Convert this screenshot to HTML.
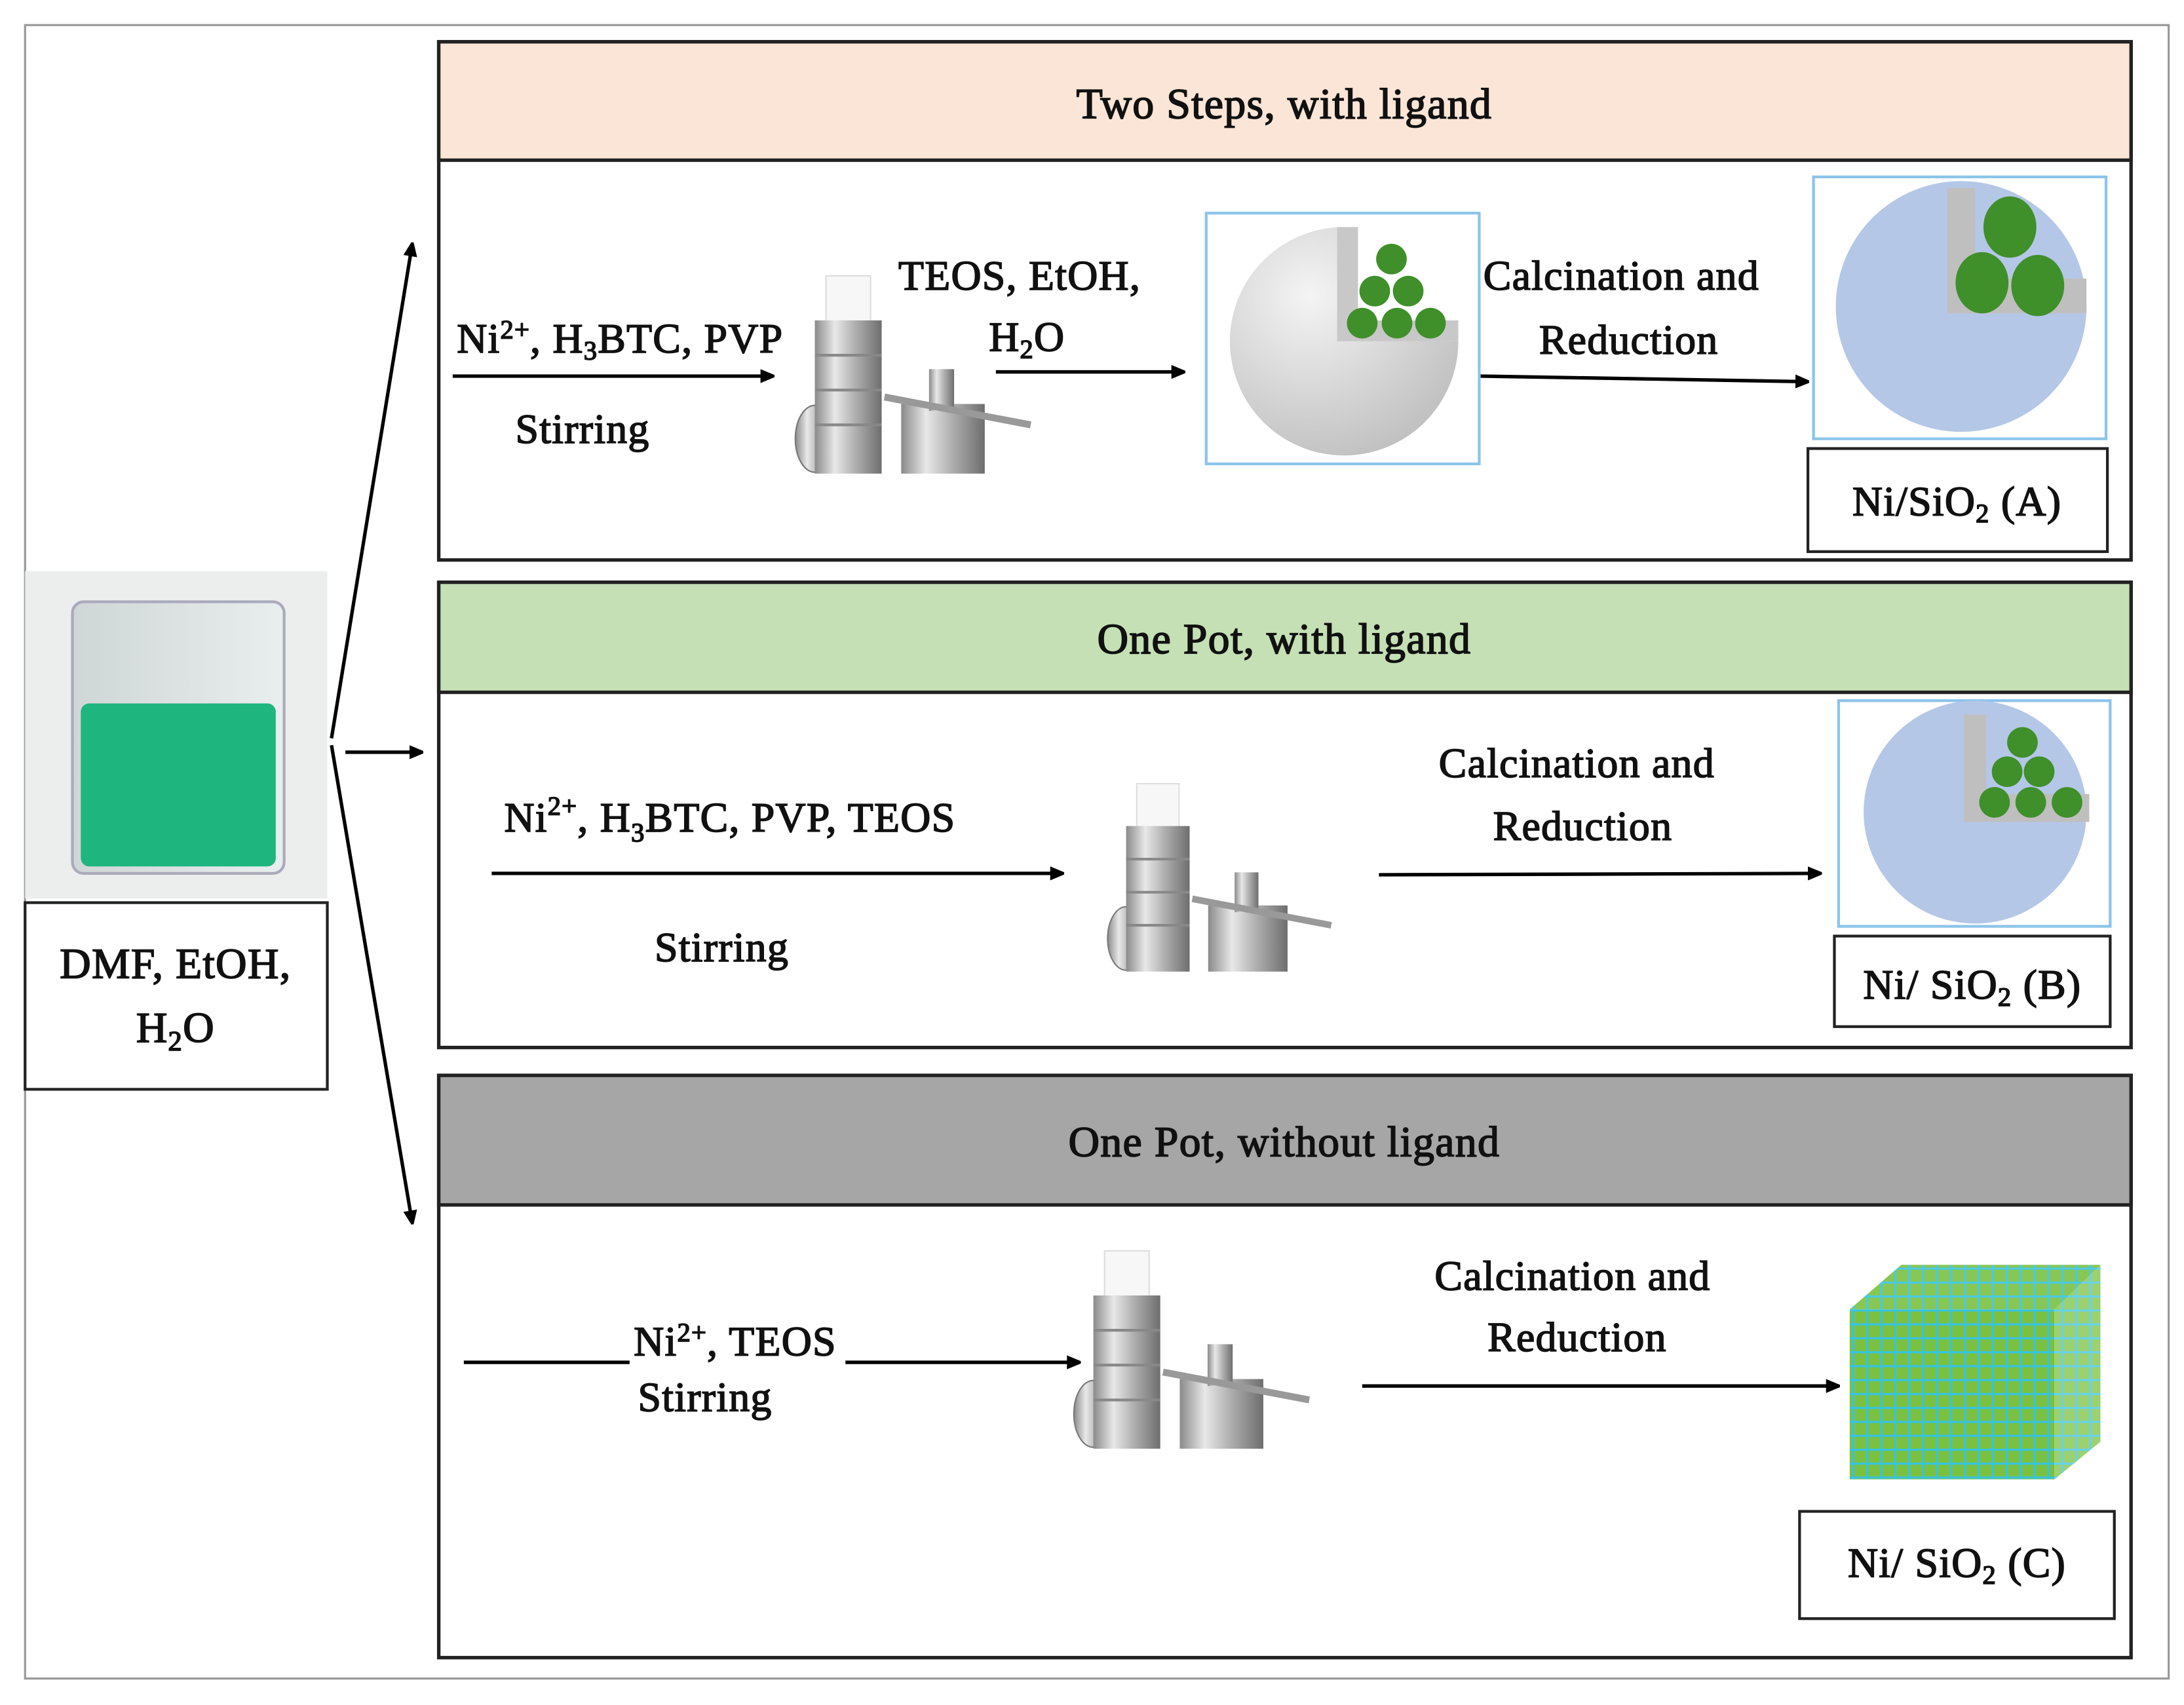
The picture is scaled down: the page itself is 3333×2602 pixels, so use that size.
<!DOCTYPE html>
<html><head><meta charset="utf-8"><style>
html,body{margin:0;padding:0;background:#fff}
svg{display:block}
text{font-family:"Liberation Serif",serif;fill:#111;stroke:#111;stroke-width:0.8;letter-spacing:0.6px}
</style></head><body>
<svg width="3333" height="2602" viewBox="0 0 1568 1224" preserveAspectRatio="none" xmlns="http://www.w3.org/2000/svg">
<defs>
<marker id="ah" markerWidth="10" markerHeight="10" refX="9" refY="5" orient="auto" markerUnits="userSpaceOnUse"><path d="M0,0 L12,5 L0,10 z" fill="#000"/></marker>
<linearGradient id="metal" x1="0" x2="1"><stop offset="0" stop-color="#8a8a8a"/><stop offset="0.3" stop-color="#e8e8e8"/><stop offset="0.6" stop-color="#b0b0b0"/><stop offset="1" stop-color="#6e6e6e"/></linearGradient>
<radialGradient id="gsph" cx="0.35" cy="0.3" r="0.8"><stop offset="0" stop-color="#f4f4f4"/><stop offset="1" stop-color="#bdbdbd"/></radialGradient>
<linearGradient id="glass" x1="0" x2="1"><stop offset="0" stop-color="#cfd6d6"/><stop offset="1" stop-color="#e9eeee"/></linearGradient>
<pattern id="grid" width="10" height="10" patternUnits="userSpaceOnUse"><rect width="10" height="10" fill="#7ac142"/><path d="M0 0H10M0 0V10" stroke="#35c4e0" stroke-width="3"/></pattern>
<g id="auto">
 <ellipse cx="30" cy="125" rx="14" ry="24" fill="url(#metal)" stroke="#777"/>
 <rect x="38" y="8" width="32" height="35" fill="#f7f7f7" stroke="#ddd"/>
 <rect x="30" y="40" width="48" height="110" fill="url(#metal)"/>
 <path d="M30 65H78M30 90H78M30 115H78" stroke="#888" stroke-width="2"/>
 <rect x="92" y="100" width="60" height="50" fill="url(#metal)"/>
 <rect x="112" y="75" width="18" height="30" fill="url(#metal)"/>
 <line x1="80" y1="95" x2="185" y2="115" stroke="#999" stroke-width="5"/>
</g>
</defs>
<rect x="0" y="0" width="1568" height="1224" fill="#fff"/>
<rect x="18" y="18" width="1539" height="1187" fill="none" stroke="#999" stroke-width="1.5"/>

<rect x="315" y="30" width="1215" height="372" fill="#fff" stroke="#222" stroke-width="2.5"/>
<rect x="315" y="30" width="1215" height="85" fill="#fbe5d6" stroke="#222" stroke-width="2.5"/>
<text x="922" y="85" font-size="31" text-anchor="middle">Two Steps, with ligand</text>
<rect x="315" y="418" width="1215" height="334" fill="#fff" stroke="#222" stroke-width="2.5"/>
<rect x="315" y="418" width="1215" height="79" fill="#c5e0b4" stroke="#222" stroke-width="2.5"/>
<text x="922" y="469" font-size="31" text-anchor="middle">One Pot, with ligand</text>
<rect x="315" y="772" width="1215" height="418" fill="#fff" stroke="#222" stroke-width="2.5"/>
<rect x="315" y="772" width="1215" height="93" fill="#a6a6a6" stroke="#222" stroke-width="2.5"/>
<text x="922" y="830" font-size="31" text-anchor="middle">One Pot, without ligand</text>

<rect x="18" y="410" width="217" height="235" fill="#eceeee"/>
<rect x="52" y="432" width="152" height="195" rx="8" fill="url(#glass)" stroke="#aab" stroke-width="2"/>
<rect x="58" y="505" width="140" height="117" rx="6" fill="#1fb57f"/>
<rect x="18" y="648" width="217" height="134" fill="#fff" stroke="#222" stroke-width="2"/>
<text x="126" y="702" font-size="31" text-anchor="middle">DMF, EtOH,</text>
<text x="126" y="748" font-size="31" text-anchor="middle">H<tspan font-size="20" dy="6">2</tspan><tspan dy="-6">O</tspan></text>

<g stroke="#000" stroke-width="2.5" fill="none" marker-end="url(#ah)">
<line x1="238" y1="530" x2="296" y2="175"/>
<line x1="248" y1="540" x2="303" y2="540"/>
<line x1="238" y1="535" x2="296" y2="878"/>
</g>

<text x="328" y="253" font-size="30">Ni<tspan font-size="19" dy="-10">2+</tspan><tspan dy="10">, H</tspan><tspan font-size="19" dy="5">3</tspan><tspan dy="-5">BTC, PVP</tspan></text>
<text x="370" y="318" font-size="30">Stirring</text>
<g stroke="#000" stroke-width="2.5" marker-end="url(#ah)">
<line x1="325" y1="270" x2="555" y2="270"/>
<line x1="715" y1="267" x2="850" y2="267"/>
<line x1="1063" y1="270" x2="1298" y2="274"/>
<line x1="353" y1="627" x2="763" y2="627"/>
<line x1="990" y1="628" x2="1307" y2="627"/>
<line x1="607" y1="978" x2="775" y2="978"/>
<line x1="978" y1="995" x2="1320" y2="995"/>
</g>
<line x1="333" y1="978" x2="452" y2="978" stroke="#000" stroke-width="2.5"/>
<use href="#auto" x="555" y="190"/>
<text x="645" y="208" font-size="30">TEOS, EtOH,</text>
<text x="710" y="252" font-size="30">H<tspan font-size="19" dy="5">2</tspan><tspan dy="-5">O</tspan></text>
<rect x="866" y="153" width="196" height="180" fill="#fff" stroke="#8cc4ea" stroke-width="2"/>
<path d="M965 245 L965 163 A82 82 0 1 0 1047 245 Z" fill="url(#gsph)"/>
<path d="M960 163 L975 163 L975 230 L1047 230 L1047 245 L960 245 Z" fill="#c8c8c8"/>
<g fill="#3f8f2a"><circle cx="999" cy="186" r="11"/><circle cx="987" cy="209" r="11"/><circle cx="1011" cy="209" r="11"/><circle cx="978" cy="232" r="11"/><circle cx="1003" cy="232" r="11"/><circle cx="1027" cy="232" r="11"/></g>
<text x="1065" y="208" font-size="30">Calcination and</text>
<text x="1105" y="254" font-size="30">Reduction</text>
<rect x="1302" y="127" width="210" height="188" fill="#fff" stroke="#8cc4ea" stroke-width="2"/>
<circle cx="1408" cy="220" r="90" fill="#b4c7e7"/>
<path d="M1398 135 L1418 135 L1418 200 L1498 200 L1498 225 L1398 225 Z" fill="#bfbfbf"/>
<g fill="#3f8f2a"><ellipse cx="1443" cy="163" rx="19" ry="22"/><ellipse cx="1423" cy="203" rx="19" ry="22"/><ellipse cx="1463" cy="205" rx="19" ry="22"/></g>
<rect x="1298" y="322" width="215" height="74" fill="#fff" stroke="#222" stroke-width="2"/>
<text x="1405" y="370" font-size="30" text-anchor="middle">Ni/SiO<tspan font-size="19" dy="5">2</tspan><tspan dy="-5"> (A)</tspan></text>

<text x="362" y="597" font-size="30">Ni<tspan font-size="19" dy="-12">2+</tspan><tspan dy="12">, H</tspan><tspan font-size="19" dy="7">3</tspan><tspan dy="-7">BTC, PVP, TEOS</tspan></text>
<text x="470" y="690" font-size="30">Stirring</text>
<use href="#auto" x="780" y="555" transform="translate(780 555) scale(0.95) translate(-780 -555)"/>
<text x="1033" y="558" font-size="30">Calcination and</text>
<text x="1072" y="603" font-size="30">Reduction</text>
<rect x="1320" y="503" width="195" height="162" fill="#fff" stroke="#8cc4ea" stroke-width="2"/>
<circle cx="1418" cy="583" r="80" fill="#b4c7e7"/>
<path d="M1410 513 L1426 513 L1426 570 L1500 570 L1500 590 L1410 590 Z" fill="#bfbfbf"/>
<g fill="#3f8f2a"><circle cx="1452" cy="533" r="11"/><circle cx="1441" cy="554" r="11"/><circle cx="1464" cy="554" r="11"/><circle cx="1432" cy="576" r="11"/><circle cx="1458" cy="576" r="11"/><circle cx="1484" cy="576" r="11"/></g>
<rect x="1317" y="672" width="198" height="65" fill="#fff" stroke="#222" stroke-width="2"/>
<text x="1416" y="717" font-size="30" text-anchor="middle">Ni/ SiO<tspan font-size="19" dy="5">2</tspan><tspan dy="-5"> (B)</tspan></text>

<text x="455" y="973" font-size="30">Ni<tspan font-size="19" dy="-10">2+</tspan><tspan dy="10">, TEOS</tspan></text>
<text x="458" y="1013" font-size="30">Stirring</text>
<use href="#auto" x="755" y="890"/>
<text x="1030" y="926" font-size="30">Calcination and</text>
<text x="1068" y="970" font-size="30">Reduction</text>
<polygon points="1328,940 1365,908 1508,908 1475,940" fill="url(#grid)" opacity="0.9"/>
<rect x="1328" y="940" width="147" height="122" fill="url(#grid)"/>
<polygon points="1475,940 1508,908 1508,1035 1475,1062" fill="url(#grid)" opacity="0.75"/>
<rect x="1292" y="1085" width="226" height="77" fill="#fff" stroke="#222" stroke-width="2"/>
<text x="1405" y="1132" font-size="30" text-anchor="middle">Ni/ SiO<tspan font-size="19" dy="5">2</tspan><tspan dy="-5"> (C)</tspan></text>
</svg>
</body></html>
